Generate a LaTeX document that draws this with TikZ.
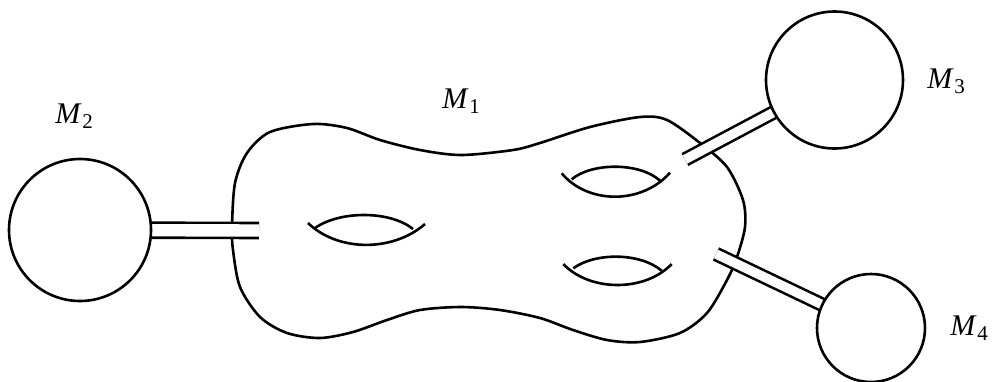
\documentclass[tikz,border=0pt]{standalone}
\usepackage{fontspec}
\setmainfont{Liberation Serif}
\usetikzlibrary{backgrounds}
\newcommand\mlab[1]{\fontsize{15}{18}\selectfont\textit{M}\kern0.3pt\raisebox{-2.6pt}{\fontsize{10.5}{12}\selectfont #1}}
\begin{document}
\begin{tikzpicture}[x=0.5pt,y=-0.5pt,line width=1.3pt,
  sphere/.style={circle,draw,line width=1.3pt,inner sep=0pt,outer sep=0pt},
  tube/.style={line width=1.3pt,double,double distance=#1},
  surf/.style={line width=1.3pt},
  lab/.style={anchor=base west,inner sep=0pt}]
\useasboundingbox (0,0) rectangle (992,381);
% spheres
\node[sphere,minimum size=71pt] (M2) at (80,230) {};
\node[sphere,minimum size=68.5pt] (M3) at (834.5,80) {};
\node[sphere,minimum size=54pt] (M4) at (871,328) {};
% labels
\node[lab] (L1) at (441,108.3) {\mlab{1}};
\node[lab] (L2) at (54,123.3) {\mlab{2}};
\node[lab] (L3) at (926,88.3) {\mlab{3}};
\node[lab] (L4) at (949,335) {\mlab{4}};
% tube ends inside M1
\coordinate (t2) at (259,230.5);
\coordinate (t3) at (685,159.5);
\coordinate (t4) at (716,254);
\begin{scope}[on background layer]
  \draw[surf] plot[smooth cycle] coordinates {
    (232,227) (235,183) (247,153) (270,132) (313,124) (347,128) (380,140)
    (420,150) (461,155) (513,150) (540,143) (590,127) (640,117) (667,120)
    (700,143) (727,167) (743,200) (745,227) (737,257) (727,280) (707,313)
    (680,333) (640,342) (607,340) (573,330) (540,318) (500,310) (461,307)
    (420,310) (387,320) (353,332) (320,338) (287,333) (260,317) (240,287)
    (233,250)};
  \draw[tube=6.2pt] (M2) -- (t2);
  \draw[tube=4.7pt] (t3) -- (M3);
  \draw[tube=4.7pt] (t4) -- (M4);
\end{scope}
% handles (holes)
\draw[surf] (308,223) .. controls (338,252) and (393,252) .. (425,224);
\draw[surf] (315,228) .. controls (340,210.5) and (390,210.5) .. (413,229);
\draw[surf] (561.7,173.3) .. controls (588,204.6) and (642,204.6) .. (670,172.7);
\draw[surf] (571.7,179.3) .. controls (592,162.3) and (640,162.3) .. (660,180.7);
\draw[surf] (563.3,264) .. controls (590,292) and (645,292) .. (671.7,264);
\draw[surf] (573.3,268.3) .. controls (595,252.4) and (640,252.4) .. (661.7,270.7);
\end{tikzpicture}
\end{document}
